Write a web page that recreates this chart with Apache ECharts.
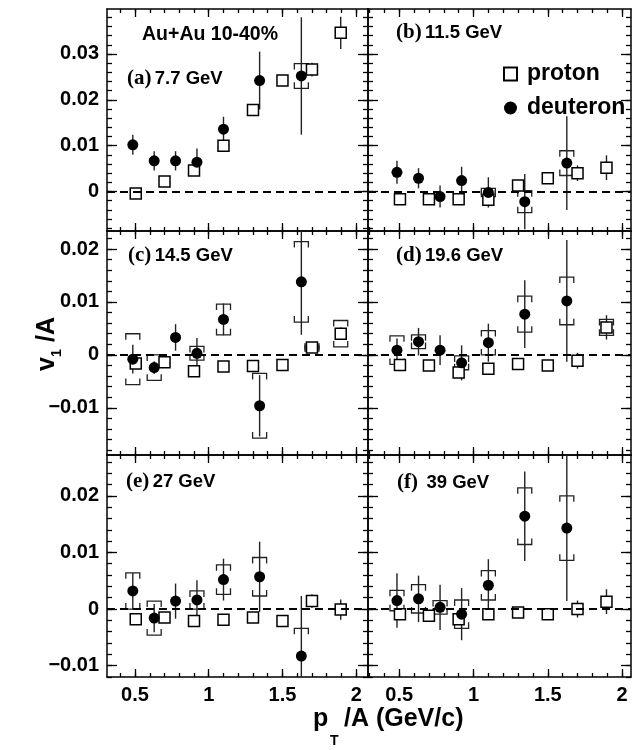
<!DOCTYPE html>
<html>
<head>
<meta charset="utf-8">
<script src="https://cdn.jsdelivr.net/npm/echarts@6/dist/echarts.min.js"></script>
<style>
  html, body { margin: 0; padding: 0; background: #fff; }
  #chart { width: 634px; height: 750px; }
</style>
</head>
<body>
<div id="chart"></div>
<script>
// pT/A bin centres
const protonPt = [0.505, 0.70, 0.90, 1.10, 1.30, 1.50, 1.70, 1.895]
const deuteronPt = [0.485, 0.63, 0.775, 0.92, 1.10, 1.345, 1.628]

// tick labels
const xTicks = [0.5, 1, 1.5, 2]
const row1Ticks = [0, 0.01, 0.02, 0.03]
const row2Ticks = [-0.01, 0, 0.01, 0.02]
const row3Ticks = [-0.01, 0, 0.01, 0.02]

// (a) 7.7 GeV
const protonA = [-0.0004, 0.0022, 0.0046, 0.0100, 0.0178, 0.0242, 0.0266, 0.0346]
const protonErrA = [0.0004, 0.0004, 0.0005, 0.0006, 0.0006, 0.0009, 0.0015, 0.0035]
const protonSysA = [0, 0, 0, 0, 0, 0, 0, 0]
const deuteronA = [0.0102, 0.0067, 0.0067, 0.0064, 0.0136, 0.0242, 0.0252]
const deuteronErrA = [0.0022, 0.0021, 0.0021, 0.0030, 0.0027, 0.0063, 0.0128]
const deuteronSysA = [0, 0, 0, 0, 0, 0, 0.0027]

// (b) 11.5 GeV
const protonB = [-0.0017, -0.0017, -0.0017, -0.0018, 0.0013, 0.0029, 0.0040, 0.0052]
const protonErrB = [0.0005, 0.0005, 0.0005, 0.0005, 0.0005, 0.0006, 0.0017, 0.0027]
const protonSysB = [0, 0, 0, 0, 0, 0, 0, 0]
const deuteronB = [0.0042, 0.0029, -0.0011, 0.0024, -0.0002, -0.0022, 0.0062]
const deuteronErrB = [0.0025, 0.0022, 0.0024, 0.0030, 0.0033, 0.0060, 0.0102]
const deuteronSysB = [0, 0, 0, 0, 0.0009, 0.0024, 0.0027]

// (c) 14.5 GeV
const protonC = [-0.0016, -0.0014, -0.0031, -0.0022, -0.0021, -0.0019, 0.0014, 0.0040]
const protonErrC = [0.0005, 0.0005, 0.0005, 0.0005, 0.0005, 0.0005, 0.0007, 0.0012]
const protonSysC = [0, 0, 0, 0, 0, 0, 0.0007, 0.0025]
const deuteronC = [-0.0008, -0.0024, 0.0033, 0.0003, 0.0067, -0.0096, 0.0138]
const deuteronErrC = [0.0027, 0.0012, 0.0025, 0.0029, 0.0030, 0.0058, 0.0100]
const deuteronSysC = [0.0048, 0.0024, 0, 0.0013, 0.0029, 0.0061, 0.0076]

// (d) 19.6 GeV
const protonD = [-0.0019, -0.0020, -0.0033, -0.0026, -0.0017, -0.0020, -0.0011, 0.0052]
const protonErrD = [0.0005, 0.0005, 0.0005, 0.0005, 0.0005, 0.0005, 0.0015, 0.0023]
const protonSysD = [0, 0, 0, 0, 0, 0, 0, 0.0015]
const deuteronD = [0.0009, 0.0025, 0.0009, -0.0015, 0.0023, 0.0077, 0.0102]
const deuteronErrD = [0.0022, 0.0026, 0.0028, 0.0033, 0.0036, 0.0064, 0.0115]
const deuteronSysD = [0.0027, 0.0013, 0, 0.0013, 0.0023, 0.0034, 0.0045]

// (e) 27 GeV
const protonE = [-0.0018, -0.0015, -0.0021, -0.0019, -0.0015, -0.0021, 0.0014, -0.0001]
const protonErrE = [0.0005, 0.0005, 0.0005, 0.0005, 0.0005, 0.0005, 0.0012, 0.0018]
const protonSysE = [0, 0, 0, 0, 0, 0, 0, 0]
const deuteronE = [0.0032, -0.0016, 0.0014, 0.0016, 0.0052, 0.0057, -0.0083]
const deuteronErrE = [0.0032, 0.0025, 0.0031, 0.0035, 0.0037, 0.0062, 0.0106]
const deuteronSysE = [0.0032, 0.0030, 0, 0.0016, 0.0026, 0.0034, 0.0049]

// (f) 39 GeV
const protonF = [-0.0009, -0.0012, -0.0018, -0.0009, -0.0006, -0.0009, 0.0000, 0.0013]
const protonErrF = [0.0005, 0.0005, 0.0005, 0.0005, 0.0005, 0.0005, 0.0015, 0.0022]
const protonSysF = [0, 0, 0, 0, 0, 0, 0, 0]
const deuteronF = [0.0015, 0.0018, 0.0003, -0.0009, 0.0042, 0.0164, 0.0143]
const deuteronErrF = [0.0048, 0.0041, 0.0040, 0.0046, 0.0046, 0.0079, 0.0129]
const deuteronSysF = [0.0018, 0.0025, 0.0012, 0.0025, 0.0026, 0.0050, 0.0057]

const FONT = '"Liberation Sans", Arial, Helvetica, sans-serif'
const SERIF = '"Liberation Serif", "Times New Roman", serif'

const panels = [
  { tag: '(a)', energy: '7.7 GeV', rect: [107, 9, 261, 222], xr: [0.31, 2.08], yr: [-0.0086, 0.0398], yTicks: row1Ticks, yLab: true, xLab: false, tx: 127, ty: 80,
    p: [protonA, protonErrA, protonSysA], d: [deuteronA, deuteronErrA, deuteronSysA] },
  { tag: '(b)', energy: '11.5 GeV', rect: [368, 9, 263, 222], xr: [0.29, 2.06], yr: [-0.0086, 0.0398], yTicks: row1Ticks, yLab: false, xLab: false, tx: 396, ty: 34,
    p: [protonB, protonErrB, protonSysB], d: [deuteronB, deuteronErrB, deuteronSysB] },
  { tag: '(c)', energy: '14.5 GeV', rect: [107, 231, 261, 224], xr: [0.31, 2.08], yr: [-0.0189, 0.0234], yTicks: row2Ticks, yLab: true, xLab: false, tx: 128, ty: 257,
    p: [protonC, protonErrC, protonSysC], d: [deuteronC, deuteronErrC, deuteronSysC] },
  { tag: '(d)', energy: '19.6 GeV', rect: [368, 231, 263, 224], xr: [0.29, 2.06], yr: [-0.0189, 0.0234], yTicks: row2Ticks, yLab: false, xLab: false, tx: 396, ty: 257,
    p: [protonD, protonErrD, protonSysD], d: [deuteronD, deuteronErrD, deuteronSysD] },
  { tag: '(e)', energy: '27 GeV', rect: [107, 455, 261, 222], xr: [0.31, 2.08], yr: [-0.012, 0.0272], yTicks: row3Ticks, yLab: true, xLab: true, tx: 126, ty: 483,
    p: [protonE, protonErrE, protonSysE], d: [deuteronE, deuteronErrE, deuteronSysE] },
  { tag: '(f)', energy: ' 39 GeV', rect: [368, 455, 263, 222], xr: [0.29, 2.06], yr: [-0.012, 0.0272], yTicks: row3Ticks, yLab: false, xLab: true, tx: 397, ty: 484,
    p: [protonF, protonErrF, protonSysF], d: [deuteronF, deuteronErrF, deuteronSysF] }
]

function stepTicks (min, max, step) {
  const out = []
  for (let k = Math.ceil(min / step - 1e-9); k * step <= max + 1e-9; k++) out.push(+(k * step).toFixed(6))
  return out
}

function fmtY (v) {
  if (Math.abs(v) < 1e-9) return '0'
  return (v < 0 ? '\u2212' : '') + Math.abs(v).toFixed(2)
}

const labelStyle = { color: '#000', fontSize: 20, fontWeight: 'bold', fontFamily: FONT }
const lineStyle = { color: '#000', width: 1.5 }
const tickLine = { color: '#000', width: 1.3 }

function makeX (gi, p) {
  const minor = stepTicks(p.xr[0], p.xr[1], 0.1)
  const base = { type: 'value', gridIndex: gi, min: p.xr[0], max: p.xr[1], splitLine: { show: false } }
  const out = []
  ;['bottom', 'top'].forEach(function (pos) {
    out.push(Object.assign({}, base, {
      position: pos,
      axisLine: { show: true, onZero: false, lineStyle: lineStyle },
      axisTick: { show: true, inside: true, length: 8, customValues: xTicks, lineStyle: tickLine },
      axisLabel: Object.assign({ show: pos === 'bottom' && p.xLab, customValues: xTicks, margin: 8, formatter: (v) => String(v) }, labelStyle)
    }))
    out.push(Object.assign({}, base, {
      position: pos,
      axisLine: { show: false, onZero: false },
      axisTick: { show: true, inside: true, length: 4, customValues: minor, lineStyle: tickLine },
      axisLabel: { show: false }
    }))
  })
  return out
}

function makeY (gi, p) {
  const minor = stepTicks(p.yr[0], p.yr[1], 0.002)
  const base = { type: 'value', gridIndex: gi, min: p.yr[0], max: p.yr[1], splitLine: { show: false } }
  const out = []
  ;['left', 'right'].forEach(function (pos) {
    out.push(Object.assign({}, base, {
      position: pos,
      axisLine: { show: true, onZero: false, lineStyle: lineStyle },
      axisTick: { show: true, inside: true, length: 10, customValues: p.yTicks, lineStyle: tickLine },
      axisLabel: Object.assign({ show: pos === 'left' && p.yLab, customValues: p.yTicks, margin: 8, formatter: fmtY }, labelStyle)
    }))
    out.push(Object.assign({}, base, {
      position: pos,
      axisLine: { show: false, onZero: false },
      axisTick: { show: true, inside: true, length: 5, customValues: minor, lineStyle: tickLine },
      axisLabel: { show: false }
    }))
  })
  return out
}

// statistical error: vertical line, clipped to the panel
function renderStat (params, api) {
  const e = api.value(2)
  if (!e) return
  const x = api.value(0)
  const y = api.value(1)
  const cs = params.coordSys
  const t = api.coord([x, y + e])
  const b = api.coord([x, y - e])
  return {
    type: 'line',
    shape: { x1: t[0], y1: Math.max(t[1], cs.y), x2: b[0], y2: Math.min(b[1], cs.y + cs.height) },
    style: { stroke: '#222', lineWidth: 1.4 }
  }
}

// systematic error: ROOT style brackets
function renderSys (params, api) {
  const e = api.value(2)
  if (!e) return
  const x = api.value(0)
  const y = api.value(1)
  const cs = params.coordSys
  const t = api.coord([x, y + e])
  const b = api.coord([x, y - e])
  const w = 7
  const leg = 6
  const children = []
  if (t[1] >= cs.y) {
    children.push({ type: 'polyline', shape: { points: [[t[0] - w, t[1] + leg], [t[0] - w, t[1]], [t[0] + w, t[1]], [t[0] + w, t[1] + leg]] }, style: { stroke: '#222', lineWidth: 1.3, fill: null } })
  }
  if (b[1] <= cs.y + cs.height) {
    children.push({ type: 'polyline', shape: { points: [[b[0] - w, b[1] - leg], [b[0] - w, b[1]], [b[0] + w, b[1]], [b[0] + w, b[1] - leg]] }, style: { stroke: '#222', lineWidth: 1.3, fill: null } })
  }
  return { type: 'group', children: children }
}

const grids = []
let xAxis = []
let yAxis = []
const series = []
const graphic = []

panels.forEach(function (p, gi) {
  grids.push({ left: p.rect[0], top: p.rect[1], width: p.rect[2], height: p.rect[3], containLabel: false, outerBoundsMode: 'none' })
  xAxis = xAxis.concat(makeX(gi, p))
  yAxis = yAxis.concat(makeY(gi, p))
  const xi = gi * 4
  const yi = gi * 4
  const pts = [[protonPt, p.p], [deuteronPt, p.d]]
  pts.forEach(function (pair) {
    const xs = pair[0]
    const arr = pair[1]
    series.push({
      type: 'custom', xAxisIndex: xi, yAxisIndex: yi, renderItem: renderStat, z: 2, silent: true,
      encode: { x: 0, y: 1 }, data: xs.map((x, i) => [x, arr[0][i], arr[1][i]])
    })
    series.push({
      type: 'custom', xAxisIndex: xi, yAxisIndex: yi, renderItem: renderSys, z: 2, silent: true,
      encode: { x: 0, y: 1 }, data: xs.map((x, i) => [x, arr[0][i], arr[2][i]])
    })
  })
  series.push({
    name: 'proton', type: 'scatter', xAxisIndex: xi, yAxisIndex: yi, z: 3,
    symbol: 'rect', symbolSize: 11,
    itemStyle: { color: '#fff', borderColor: '#000', borderWidth: 1.5, opacity: 1 },
    data: protonPt.map((x, i) => [x, p.p[0][i]]),
    markLine: {
      silent: true, symbol: 'none', label: { show: false },
      lineStyle: { color: '#000', type: [8, 5], width: 1.8 },
      data: [{ yAxis: 0 }]
    }
  })
  series.push({
    name: 'deuteron', type: 'scatter', xAxisIndex: xi, yAxisIndex: yi, z: 4,
    symbol: 'circle', symbolSize: 11,
    itemStyle: { color: '#000', opacity: 1 },
    data: deuteronPt.map((x, i) => [x, p.d[0][i]])
  })
  graphic.push({
    type: 'text', left: p.tx, top: p.ty - 12,
    style: {
      text: '{s|' + p.tag + '} {t|' + p.energy + '}',
      rich: {
        s: { fontFamily: SERIF, fontWeight: 'bold', fontSize: 21, fill: '#000' },
        t: { fontFamily: FONT, fontWeight: 'bold', fontSize: 18.5, fill: '#000' }
      }
    }
  })
})

graphic.push({
  type: 'text', left: 142, top: 25,
  style: { text: 'Au+Au 10-40%', font: 'bold 19.5px ' + FONT, fill: '#000' }
})

// x axis title  p_T /A (GeV/c)
graphic.push({ type: 'text', x: 313, y: 719, style: { text: 'p', font: 'bold 25px ' + FONT, fill: '#000', align: 'left', verticalAlign: 'middle' } })
graphic.push({ type: 'text', x: 330, y: 741, style: { text: 'T', font: 'bold 14px ' + FONT, fill: '#000', align: 'left', verticalAlign: 'middle' } })
graphic.push({ type: 'text', x: 344, y: 719, style: { text: '/A (GeV/c)', font: 'bold 25px ' + FONT, fill: '#000', align: 'left', verticalAlign: 'middle' } })

// y axis title  v_1 /A
graphic.push({
  type: 'group', x: 47, y: 344, rotation: Math.PI / 2,
  children: [
    { type: 'text', x: -27, y: 0, style: { text: 'v', font: 'bold 25px ' + FONT, fill: '#000', align: 'left', verticalAlign: 'middle' } },
    { type: 'text', x: -13, y: 10, style: { text: '1', font: 'bold 14px ' + FONT, fill: '#000', align: 'left', verticalAlign: 'middle' } },
    { type: 'text', x: -5, y: 0, style: { text: ' /A', font: 'bold 25px ' + FONT, fill: '#000', align: 'left', verticalAlign: 'middle' } }
  ]
})

const myChart = echarts.init(document.getElementById('chart'), null, { renderer: 'canvas' })
myChart.setOption({
  animation: false,
  backgroundColor: '#fff',
  grid: grids,
  xAxis: xAxis,
  yAxis: yAxis,
  legend: {
    orient: 'vertical', left: 498, top: 57, itemGap: 10,
    itemWidth: 13, itemHeight: 13,
    textStyle: { fontSize: 23, fontWeight: 'bold', fontFamily: FONT, color: '#000', lineHeight: 24, padding: [0, 0, 0, 5] },
    data: [{ name: 'proton', icon: 'rect' }, { name: 'deuteron', icon: 'circle' }],
    selectedMode: false
  },
  graphic: graphic,
  series: series
})
window.addEventListener('resize', () => {
  myChart.resize()
})
</script>
</body>
</html>
